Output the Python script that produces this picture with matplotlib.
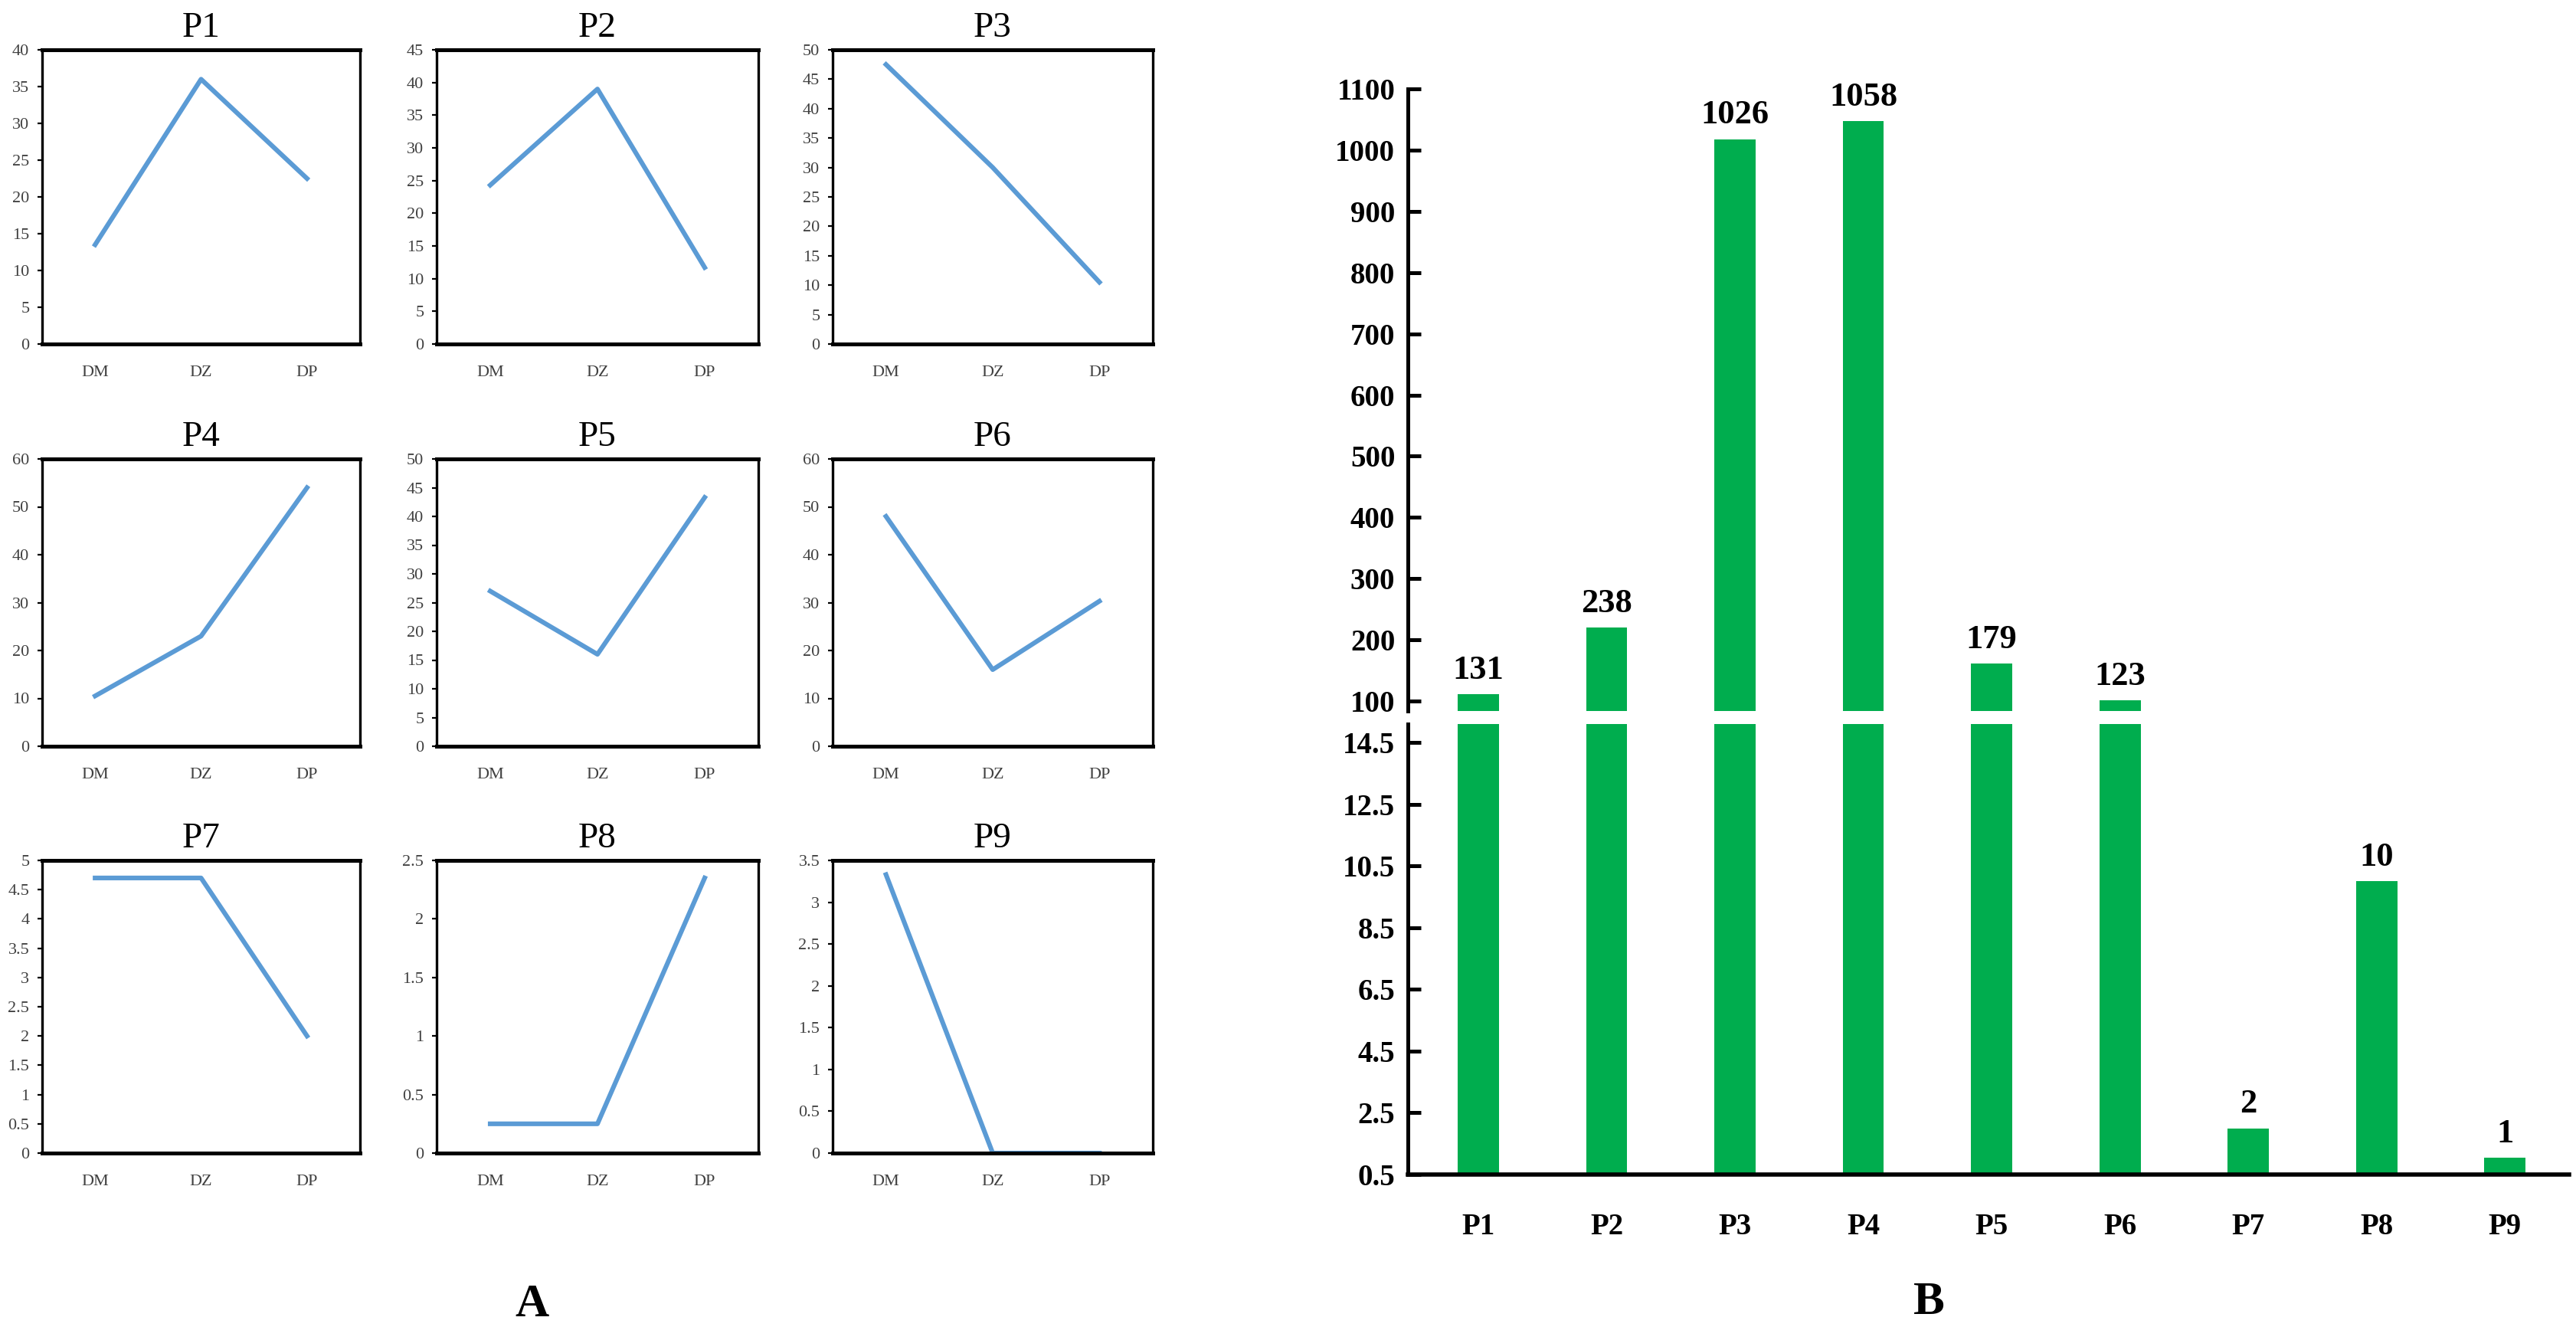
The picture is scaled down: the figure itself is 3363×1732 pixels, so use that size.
import numpy as np
import matplotlib.pyplot as plt
from matplotlib.ticker import FuncFormatter

W, H = 3363, 1732

groups = ["DM", "DZ", "DP"]
panels = ["P1", "P2", "P3", "P4", "P5", "P6", "P7", "P8", "P9"]
line_vals = [
    [13.5, 36.0, 22.5],
    [24.3, 39.0, 11.7],
    [47.5, 30.0, 10.5],
    [10.5, 23.0, 54.0],
    [27.0, 16.0, 43.3],
    [48.0, 16.0, 30.3],
    [4.7, 4.7, 2.0],
    [0.25, 0.25, 2.35],
    [3.33, 0.0, 0.0],
]
y_max = [40, 45, 50, 60, 50, 60, 5, 2.5, 3.5]
y_step = [5, 5, 5, 10, 5, 10, 0.5, 0.5, 0.5]

bar_labels = [131, 238, 1026, 1058, 179, 123, 2, 10, 1]
bar_heights = [111, 220, 1018, 1047, 161, 101, 2.0, 10.0, 1.05]
upper_ticks = [100, 200, 300, 400, 500, 600, 700, 800, 900, 1000, 1100]
lower_ticks = [0.5, 2.5, 4.5, 6.5, 8.5, 10.5, 12.5, 14.5]

serif = "Liberation Serif"
blue = "#5B9BD5"
green = "#00AD4E"


def px_axes(fig, x0, y0, x1, y1):
    # pixel box (top-left origin) -> figure axes
    return fig.add_axes([x0 / W, 1 - y1 / H, (x1 - x0) / W, (y1 - y0) / H])


fig = plt.figure(figsize=(W / 200, H / 200), dpi=200)

cols = [(55, 470), (570, 990), (1087, 1505)]
rows = [(65, 449), (599, 974), (1123, 1505)]
fmt = FuncFormatter(lambda v, p: "{:g}".format(v))

for i, name in enumerate(panels):
    r, c = divmod(i, 3)
    ax = px_axes(fig, cols[c][0], rows[r][0], cols[c][1], rows[r][1])
    ax.plot(range(3), line_vals[i], color=blue, lw=2.2)
    ax.set_xlim(-0.5, 2.5)
    ax.set_ylim(0, y_max[i])
    ax.set_yticks(np.arange(0, y_max[i] + 1e-9, y_step[i]))
    ax.yaxis.set_major_formatter(fmt)
    ax.set_xticks(range(3))
    ax.set_xticklabels(groups)
    ax.tick_params(axis="x", length=0, pad=10)
    ax.tick_params(axis="y", length=2, pad=4)
    for lab in ax.get_xticklabels() + ax.get_yticklabels():
        lab.set_fontfamily(serif)
        lab.set_fontsize(8)
        lab.set_color("#404040")
    for s in ax.spines.values():
        s.set_linewidth(1.2)
    ax.spines["bottom"].set_linewidth(1.8)
    ax.spines["top"].set_linewidth(1.8)
    ax.set_title(name, fontfamily=serif, fontsize=17, pad=6)

fig.text(694 / W, 1 - 1703 / H, "A", fontfamily=serif, fontsize=22,
         fontweight="bold", ha="center", va="center")

# broken-axis bar chart
x = np.arange(len(panels))
ax_up = px_axes(fig, 1838, 116 - 0, 3354, 928)
ax_lo = px_axes(fig, 1838, 945, 3354, 1533)
up_bottom = 100 - (928 - 915) * 1000 / 799
lo_top = 0.5 + (1533 - 945) * 14 / 564

for ax in (ax_up, ax_lo):
    ax.bar(x, bar_heights, width=0.32, color=green, bottom=0)
    ax.set_xlim(-0.55, 8.5)
    for s in ("top", "right"):
        ax.spines[s].set_visible(False)
    ax.spines["left"].set_linewidth(1.8)
    ax.tick_params(axis="y", direction="in", length=6, width=1.8, pad=6)
    for lab in ax.get_yticklabels():
        pass

ax_up.set_ylim(up_bottom, 1100)
ax_up.set_yticks(upper_ticks)
ax_up.spines["bottom"].set_visible(False)
ax_up.set_xticks([])
ax_lo.set_ylim(0.5, lo_top)
ax_lo.set_yticks(lower_ticks)
ax_lo.yaxis.set_major_formatter(fmt)
ax_lo.spines["bottom"].set_linewidth(2)
ax_lo.set_xticks(x)
ax_lo.set_xticklabels(panels)
ax_lo.tick_params(axis="x", length=0, pad=18)

for ax in (ax_up, ax_lo):
    for lab in ax.get_xticklabels() + ax.get_yticklabels():
        lab.set_fontfamily(serif)
        lab.set_fontweight("bold")
        lab.set_fontsize(14)

for i in range(len(panels)):
    ax = ax_up if bar_heights[i] > 15 else ax_lo
    ax.annotate(str(bar_labels[i]), (x[i], bar_heights[i]), xytext=(0, 4),
                textcoords="offset points", ha="center", va="bottom",
                fontfamily=serif, fontweight="bold", fontsize=16)

fig.text(2518 / W, 1 - 1700 / H, "B", fontfamily=serif, fontsize=22,
         fontweight="bold", ha="center", va="center")

fig.savefig("out.png", dpi=200)
